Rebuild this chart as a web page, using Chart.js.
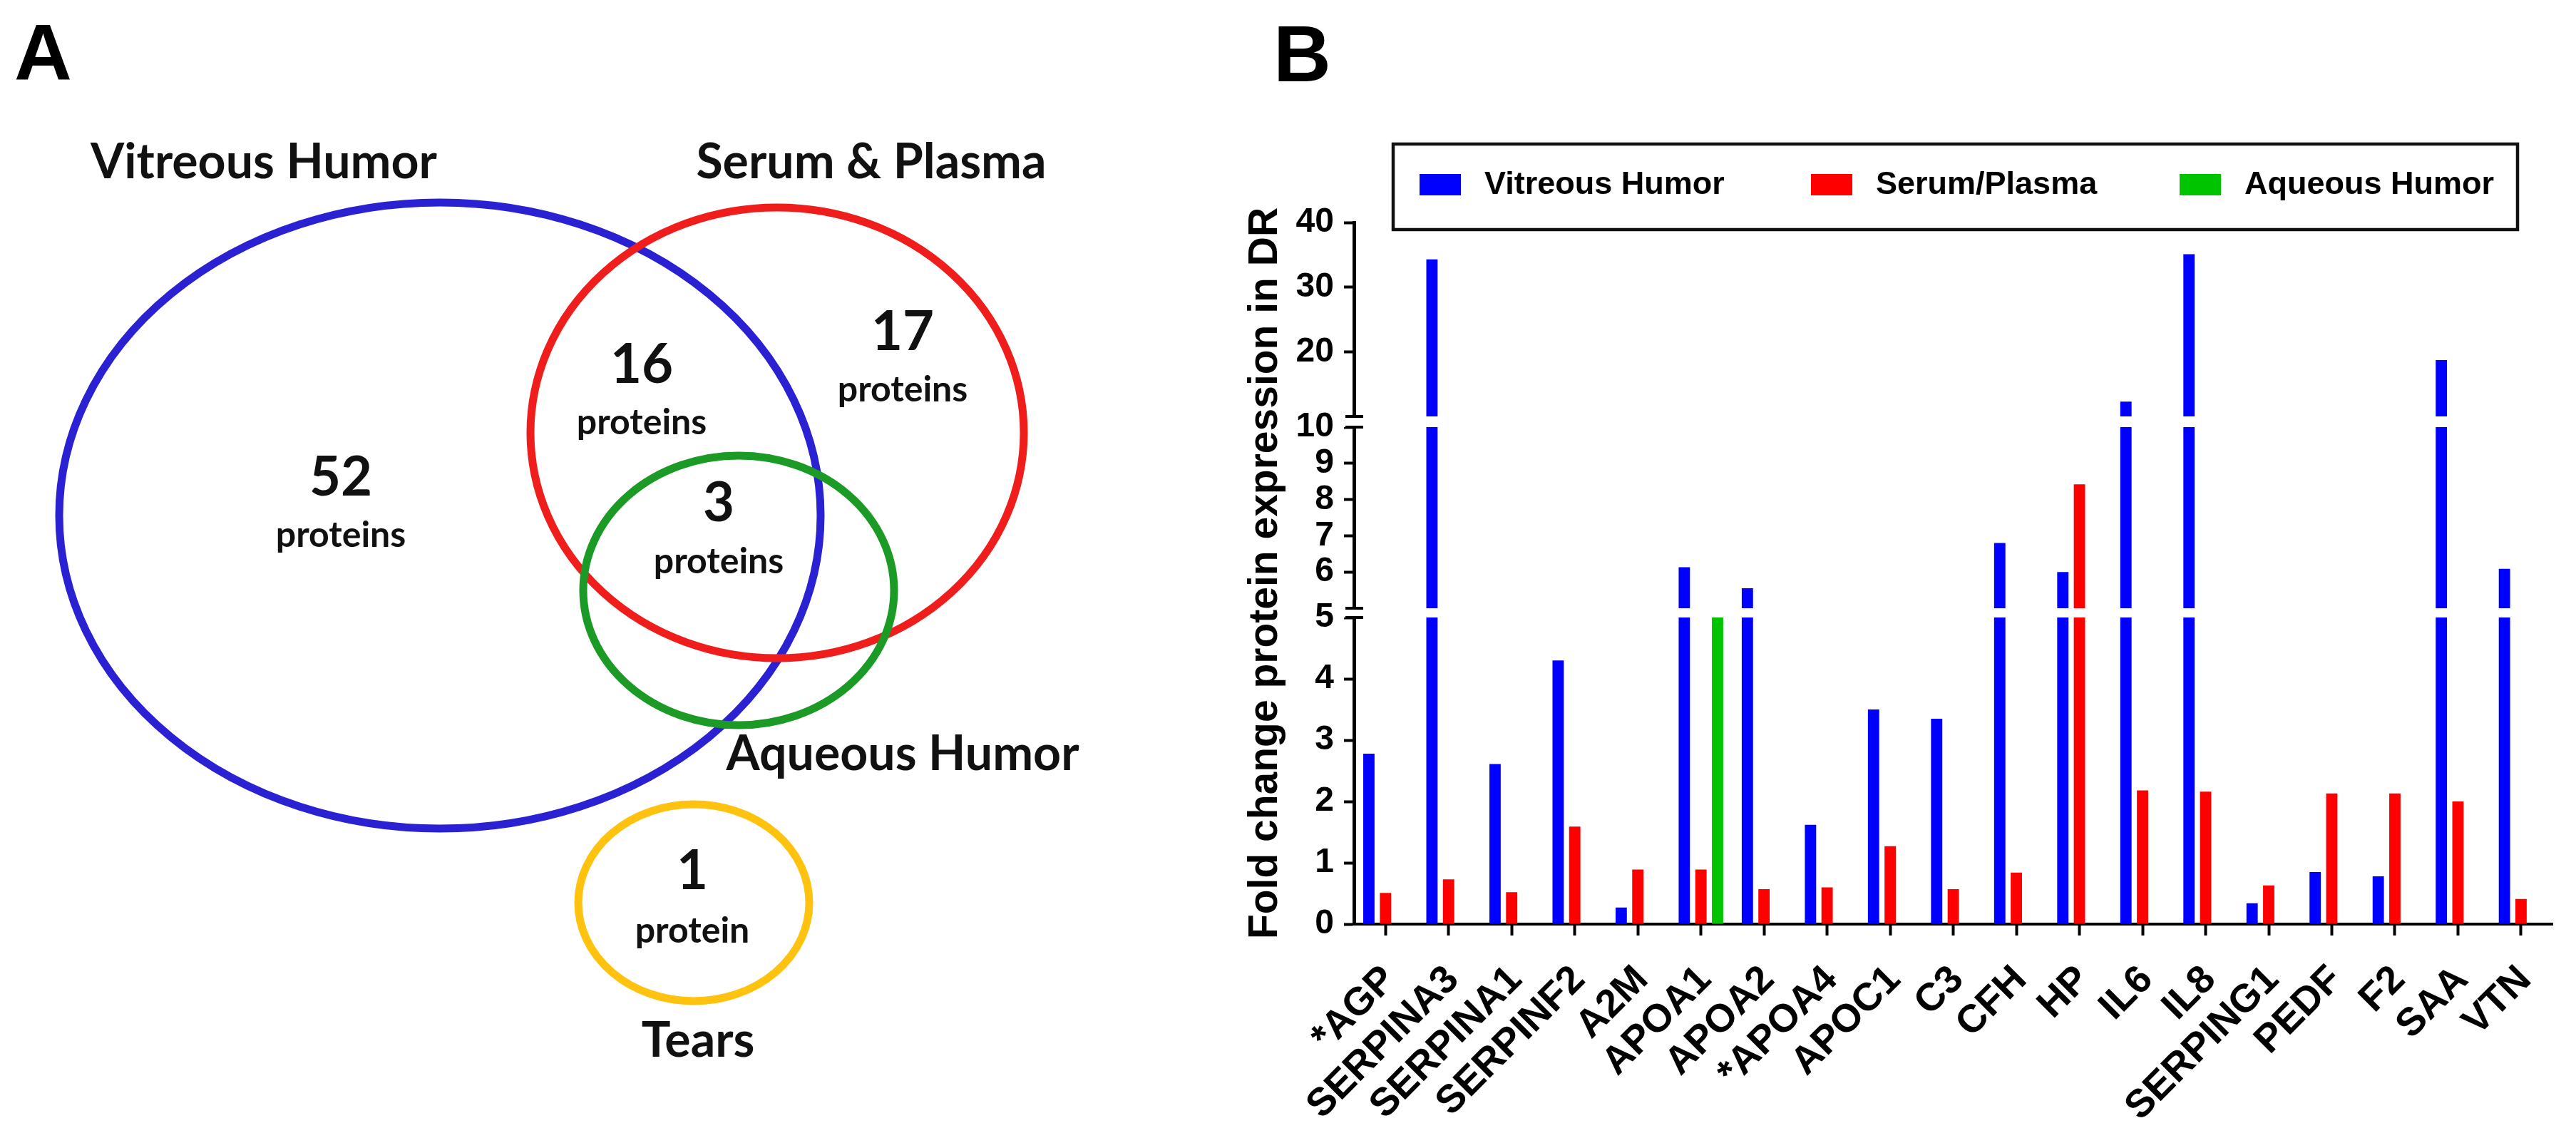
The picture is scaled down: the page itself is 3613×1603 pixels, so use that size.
<!DOCTYPE html>
<html>
<head>
<meta charset="utf-8">
<title>Protein biomarkers in DR</title>
<script src="https://cdn.jsdelivr.net/npm/chart.js@4.4.1/dist/chart.umd.min.js"></script>
<style>
  html, body { margin: 0; padding: 0; background: #fff; }
  body { width: 3613px; height: 1603px; position: relative; overflow: hidden; }
  #vennCanvas { position: absolute; left: 0; top: 0; }
  #barCanvas  { position: absolute; left: 1700px; top: 0; }
</style>
</head>
<body>
<canvas id="vennCanvas" width="1700" height="1603"></canvas>
<canvas id="barCanvas" width="1913" height="1603"></canvas>
<script>
// ─────────────────────────────────────────────────────────────
// DATA
// ─────────────────────────────────────────────────────────────
const proteins = ['*AGP', 'SERPINA3', 'SERPINA1', 'SERPINF2', 'A2M', 'APOA1', 'APOA2',
  '*APOA4', 'APOC1', 'C3', 'CFH', 'HP', 'IL6', 'IL8', 'SERPING1', 'PEDF', 'F2', 'SAA', 'VTN'];

const vitreousHumor = [2.78, 34.3, 2.61, 4.30, 0.27, 6.13, 5.55, 1.62, 3.50, 3.35,
  6.80, 6.00, 12.3, 35.1, 0.34, 0.85, 0.78, 18.7, 6.09];
const serumPlasma = [0.51, 0.73, 0.52, 1.59, 0.89, 0.89, 0.57, 0.60, 1.27, 0.57,
  0.84, 8.42, 2.18, 2.16, 0.63, 2.13, 2.13, 2.00, 0.41];
const aqueousHumor = [null, null, null, null, null, 5.0, null, null, null, null,
  null, null, null, null, null, null, null, null, null];

const seriesNames = ['Vitreous Humor', 'Serum/Plasma', 'Aqueous Humor'];
const yTickValues = [0, 1, 2, 3, 4, 5, 6, 7, 8, 9, 10, 20, 30, 40];
const yTitle = 'Fold change protein expression in DR';

const vennSetNames = ['Vitreous Humor', 'Serum & Plasma', 'Aqueous Humor', 'Tears'];
const vennRegionCounts = [52, 16, 17, 3, 1];
const vennRegionUnits = ['proteins', 'proteins', 'proteins', 'proteins', 'protein'];

// ─────────────────────────────────────────────────────────────
// LAYOUT / STYLE (positions in panel units = pixels)
// ─────────────────────────────────────────────────────────────
const VENN_SHAPES = [
  { cx: 617,  cy: 723,  rx: 534, ry: 439, color: '#2a22d2' },
  { cx: 1090, cy: 607,  rx: 346, ry: 316, color: '#f01d1d' },
  { cx: 1036, cy: 828,  rx: 218, ry: 189, color: '#1c9a26' },
  { cx: 973,  cy: 1266, rx: 162, ry: 138, color: '#ffc20e' }
];
const VENN_SET_LABEL_POS = [ { x: 370, y: 250 }, { x: 1222, y: 250 }, { x: 1266, y: 1080 }, { x: 979, y: 1482 } ];
const VENN_REGION_POS = [
  { x: 478,  y: 695,  y2: 767 },
  { x: 900,  y: 537,  y2: 609 },
  { x: 1266, y: 491,  y2: 563 },
  { x: 1008, y: 731,  y2: 804 },
  { x: 971,  y: 1247, y2: 1322 }
];
const VENN_FONT = 'Lato, "Open Sans", sans-serif';
const ARIAL = '"Liberation Sans", Arial, sans-serif';
const BAR_COLORS = ['#0000ff', '#ff0000', '#00c400'];

// broken y-axis: segments sized in pixels, gaps between them
const Y_SEGMENTS = [
  { min: 0,  max: 5,  size: 430, gap: 13 },
  { min: 5,  max: 10, size: 254, gap: 15 },
  { min: 10, max: 40, size: 272, gap: 0 }
];

const LEGEND_BOX = { x: 254, y: 202, w: 1577, h: 120 };
const LEGEND_ITEM_X = [291, 840, 1357];

// ─────────────────────────────────────────────────────────────
// BROKEN LINEAR SCALE
// ─────────────────────────────────────────────────────────────
class BrokenLinearScale extends Chart.LinearScale {
  buildTicks() {
    this.start = this.min;
    this.end = this.max;
    return yTickValues.map(v => ({ value: v }));
  }
  _unit() {
    const total = Y_SEGMENTS.reduce((s, g) => s + g.size + g.gap, 0);
    return (this.bottom - this.top) / total;
  }
  getPixelForValue(value) {
    const k = this._unit();
    let pos = this.bottom;
    for (let i = 0; i < Y_SEGMENTS.length; i++) {
      const s = Y_SEGMENTS[i];
      if (value <= s.max || i === Y_SEGMENTS.length - 1) {
        return pos - (value - s.min) / (s.max - s.min) * s.size * k;
      }
      pos -= (s.size + s.gap) * k;
    }
    return pos;
  }
  getValueForPixel(pixel) {
    const k = this._unit();
    let pos = this.bottom;
    for (const s of Y_SEGMENTS) {
      const top = pos - s.size * k;
      if (pixel >= top) return s.min + (pos - pixel) / (s.size * k) * (s.max - s.min);
      pos = top - s.gap * k;
    }
    return this.max;
  }
  // pixel bands of the gaps: [upper edge, lower edge]
  getBreakBands() {
    const k = this._unit();
    const bands = [];
    let pos = this.bottom;
    Y_SEGMENTS.forEach(s => {
      pos -= s.size * k;
      if (s.gap > 0) {
        bands.push({ lower: pos, upper: pos - s.gap * k });
        pos -= s.gap * k;
      }
    });
    return bands;
  }
}
BrokenLinearScale.id = 'brokenLinear';
BrokenLinearScale.defaults = {};
Chart.register(BrokenLinearScale);

// ─────────────────────────────────────────────────────────────
// PANEL A — VENN DIAGRAM
// ─────────────────────────────────────────────────────────────
const vennPlugin = {
  id: 'venn',
  afterDraw(chart) {
    const { ctx, scales: { x, y } } = chart;
    ctx.save();

    // panel letter
    ctx.fillStyle = '#000';
    ctx.font = 'bold 112px ' + ARIAL;
    ctx.textAlign = 'left';
    ctx.textBaseline = 'alphabetic';
    ctx.fillText('A', 20, 112);

    VENN_SHAPES.forEach(e => {
      const px = x.getPixelForValue(e.cx), py = y.getPixelForValue(e.cy);
      const rx = x.getPixelForValue(e.cx + e.rx) - px;
      const ry = y.getPixelForValue(e.cy + e.ry) - py;
      ctx.beginPath();
      ctx.ellipse(px, py, rx, ry, 0, 0, Math.PI * 2);
      ctx.lineWidth = 11;
      ctx.strokeStyle = e.color;
      ctx.stroke();
    });

    ctx.fillStyle = '#111';
    ctx.textAlign = 'center';
    ctx.font = 'bold 68px ' + VENN_FONT;
    vennSetNames.forEach((name, i) => {
      const p = VENN_SET_LABEL_POS[i];
      ctx.fillText(name, x.getPixelForValue(p.x), y.getPixelForValue(p.y));
    });

    vennRegionCounts.forEach((n, i) => {
      const p = VENN_REGION_POS[i];
      const px = x.getPixelForValue(p.x);
      ctx.font = 'bold 76px ' + VENN_FONT;
      ctx.fillText(String(n), px, y.getPixelForValue(p.y));
      ctx.font = 'bold 50px ' + VENN_FONT;
      ctx.fillText(vennRegionUnits[i], px, y.getPixelForValue(p.y2));
    });
    ctx.restore();
  }
};

new Chart(document.getElementById('vennCanvas'), {
  type: 'scatter',
  data: { datasets: [] },
  options: {
    responsive: false,
    animation: false,
    devicePixelRatio: 1,
    layout: { padding: 0 },
    plugins: { legend: { display: false }, tooltip: { enabled: false } },
    scales: {
      x: { type: 'linear', min: 0, max: 1700, display: false },
      y: { type: 'linear', min: 0, max: 1603, reverse: true, display: false }
    }
  },
  plugins: [vennPlugin]
});

// ─────────────────────────────────────────────────────────────
// PANEL B — BAR CHART WITH BROKEN AXIS
// ─────────────────────────────────────────────────────────────
const breakPlugin = {
  id: 'axisBreaks',
  afterDatasetsDraw(chart) {
    const { ctx, chartArea } = chart;
    const yScale = chart.scales.y;
    const ax = chartArea.left;
    ctx.save();
    yScale.getBreakBands().forEach(b => {
      ctx.fillStyle = '#fff';
      ctx.fillRect(ax - 20, b.upper, chartArea.right - ax + 20, b.lower - b.upper);
      ctx.strokeStyle = '#000';
      ctx.lineWidth = 4;
      [b.upper, b.lower].forEach(yy => {
        ctx.beginPath();
        ctx.moveTo(ax - 12, yy);
        ctx.lineTo(ax + 13, yy);
        ctx.stroke();
      });
    });
    ctx.restore();
  }
};

const decorPlugin = {
  id: 'panelDecor',
  afterDraw(chart) {
    const { ctx } = chart;
    ctx.save();
    ctx.fillStyle = '#000';
    ctx.font = 'bold 112px ' + ARIAL;
    ctx.textBaseline = 'alphabetic';
    ctx.textAlign = 'left';
    ctx.fillText('B', 86, 114);

    // framed legend
    ctx.lineWidth = 4.5;
    ctx.strokeStyle = '#111';
    ctx.strokeRect(LEGEND_BOX.x, LEGEND_BOX.y, LEGEND_BOX.w, LEGEND_BOX.h);
    ctx.font = 'bold 45px ' + ARIAL;
    ctx.textBaseline = 'middle';
    chart.data.datasets.forEach((ds, i) => {
      const lx = LEGEND_ITEM_X[i];
      ctx.fillStyle = ds.backgroundColor;
      ctx.fillRect(lx, 244, 58, 30);
      ctx.fillStyle = '#000';
      ctx.fillText(ds.label, lx + 91, 260);
    });
    ctx.restore();
  }
};

const barSeries = [vitreousHumor, serumPlasma, aqueousHumor];

new Chart(document.getElementById('barCanvas'), {
  type: 'bar',
  data: {
    labels: proteins,
    datasets: barSeries.map((values, i) => ({
      label: seriesNames[i],
      data: values,
      backgroundColor: BAR_COLORS[i],
      borderWidth: 0,
      categoryPercentage: 0.79,
      barPercentage: 0.68
    }))
  },
  options: {
    responsive: false,
    animation: false,
    devicePixelRatio: 1,
    layout: { padding: { left: 41, top: 312, right: 15, bottom: 0 } },
    plugins: { legend: { display: false }, tooltip: { enabled: false } },
    scales: {
      x: {
        offset: true,
        grid: { display: true, drawOnChartArea: false, drawTicks: true, tickLength: 16, tickWidth: 4, tickColor: '#000', offset: false },
        border: { display: true, color: '#000', width: 4 },
        ticks: {
          autoSkip: false, maxRotation: 45, minRotation: 45, padding: 30, labelOffset: 6, color: '#000',
          font: { family: ARIAL, size: 55, weight: 'bold' }
        },
        afterFit: s => { s.height = 307; }
      },
      y: {
        type: 'brokenLinear',
        min: 0,
        max: 40,
        grid: { display: true, drawOnChartArea: false, drawTicks: true, tickLength: 14, tickWidth: 4, tickColor: '#000' },
        border: { display: true, color: '#000', width: 5 },
        ticks: {
          autoSkip: false, padding: 14, color: '#000',
          font: { family: ARIAL, size: 48, weight: 'bold' },
          callback: v => String(v)
        },
        title: {
          display: true, text: yTitle, color: '#000', padding: 0,
          font: { family: ARIAL, size: 57, weight: 'bold' }
        },
        afterFit: s => { s.width = 158; }
      }
    }
  },
  plugins: [breakPlugin, decorPlugin]
});
</script>
</body>
</html>
